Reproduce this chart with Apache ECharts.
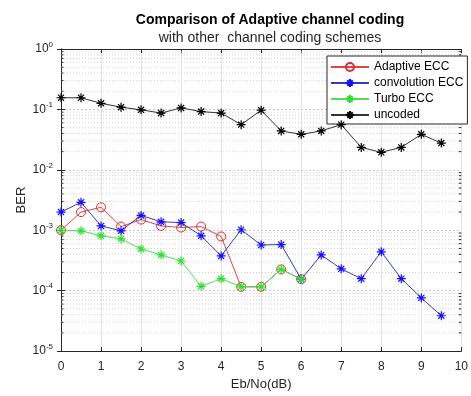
<!DOCTYPE html>
<html><head><meta charset="utf-8">
<script src="https://cdn.jsdelivr.net/npm/echarts@6/dist/echarts.min.js"></script>
<style>html,body{margin:0;padding:0;background:#fff}#c{width:471px;height:396px}</style>
</head><body><div id="c"></div>
<script>
const snr = [0,0.5,1,1.5,2,2.5,3,3.5,4,4.5,5,5.5,6,6.5,7,7.5,8,8.5,9,9.5];
const adaptiveX = [0,0.5,1,1.5,2,2.5,3,3.5,4,4.5,5,5.5,6];
const adaptiveECC = [0.001,0.0020,0.0024,0.00115,0.0015,0.00118,0.00111,0.00115,0.00079,0.000116,0.000116,0.000225,0.000155];
const convolutionECC = [0.0020,0.0029,0.00118,0.00098,0.00176,0.00138,0.00134,0.00081,0.000376,0.00102,0.00057,0.00058,0.000155,0.00039,0.00023,0.000158,0.00044,0.000158,0.000076,0.0000385];
const turboX = [0,0.5,1,1.5,2,2.5,3,3.5,4,4.5,5,5.5,6];
const turboECC = [0.001,0.00098,0.00081,0.00072,0.00049,0.00039,0.00031,0.000118,0.000158,0.000116,0.000116,0.000225,0.000155];
const uncoded = [0.156,0.156,0.126,0.109,0.0985,0.087,0.106,0.092,0.087,0.056,0.097,0.044,0.0387,0.044,0.056,0.0235,0.0195,0.0235,0.0387,0.0277];
const seriesNames = ['Adaptive ECC','convolution ECC','Turbo ECC','uncoded'];
const xTicks = [0,1,2,3,4,5,6,7,8,9,10];
const yExponents = [-5,-4,-3,-2,-1,0];

const minorVals = [];
for (let i = 0; i < yExponents.length - 1; i++) {
  for (let m = 2; m <= 9; m++) minorVals.push([0, m * Math.pow(10, yExponents[i])]);
}
const pair = (xs, ys) => xs.map((x, i) => [x, ys[i]]);
const star = 'path://M5,0L5,10M0,5L10,5M1.6,1.6L8.4,8.4M8.4,1.6L1.6,8.4';
const txt = '#262626';
const font = 'Liberation Sans, Arial, sans-serif';

const chart = echarts.init(document.getElementById('c'), null, {renderer: 'canvas'});
chart.setOption({
  backgroundColor: '#fff',
  animation: false,
  textStyle: {fontFamily: font},
  title: {
    text: 'Comparison of Adaptive channel coding',
    subtext: 'with other  channel coding schemes',
    left: 265, textAlign: 'center', top: 8, itemGap: 4,
    textStyle: {fontSize: 14, fontWeight: 'bold', color: '#000', fontFamily: font},
    subtextStyle: {fontSize: 14, color: txt, fontFamily: font}
  },
  legend: {
    data: seriesNames,
    orient: 'vertical', left: 327, top: 56,
    itemWidth: 38, itemHeight: 10, itemGap: 4,
    padding: [5, 4, 3, 3],
    borderColor: '#262626', borderWidth: 1, backgroundColor: '#fff',
    textStyle: {fontSize: 12, color: '#000', fontFamily: font}
  },
  grid: {left: 61, right: 3, top: 49, bottom: 40},
  xAxis: [{
    type: 'value', min: xTicks[0], max: xTicks[xTicks.length - 1], interval: 1,
    name: 'Eb/No(dB)', nameLocation: 'middle', nameGap: 24,
    nameTextStyle: {fontSize: 13, color: txt},
    axisLine: {show: true, lineStyle: {color: txt}},
    axisTick: {show: true, inside: true, length: 4, lineStyle: {color: txt}},
    axisLabel: {fontSize: 12, color: txt, margin: 10},
    splitLine: {show: true, lineStyle: {color: '#e2e2e2', width: 1}}
  }, {
    type: 'value', position: 'top', min: 0, max: 10, interval: 1,
    axisLine: {show: true, lineStyle: {color: txt}},
    axisTick: {show: true, inside: true, length: 4, lineStyle: {color: txt}},
    axisLabel: {show: false}, splitLine: {show: false}
  }],
  yAxis: [{
    type: 'log', logBase: 10, min: 1e-5, max: 1,
    name: 'BER', nameLocation: 'middle', nameGap: 33, nameMoveOverlap: false,
    nameTextStyle: {fontSize: 13, color: txt},
    axisLine: {show: true, lineStyle: {color: txt}},
    axisTick: {show: true, inside: true, length: 4, lineStyle: {color: txt}},
    axisLabel: {
      color: txt, margin: 8,
      formatter: v => '{b|10}{s|' + Math.round(Math.log10(v)) + '}',
      rich: {b: {fontSize: 12, color: txt, fontFamily: font}, s: {fontSize: 8, color: txt, fontFamily: font, padding: [0, 0, 9, 0]}}
    },
    splitLine: {show: true, lineStyle: {color: '#c8c8c8', type: [2, 2], width: 1}}
  }, {
    type: 'log', logBase: 10, min: 1e-5, max: 1, position: 'right',
    axisLine: {show: true, lineStyle: {color: txt}},
    axisTick: {show: true, inside: true, length: 4, lineStyle: {color: txt}},
    axisLabel: {show: false}, splitLine: {show: false}
  }],
  series: [{
    type: 'custom', silent: true, z: 1,
    coordinateSystem: 'cartesian2d',
    encode: {x: 0, y: 1},
    data: minorVals,
    renderItem: (params, api) => {
      const v = api.value(1);
      const a = api.coord([0, v]), b = api.coord([10, v]);
      return {type: 'group', children: [
        {type: 'line', shape: {x1: a[0], y1: a[1], x2: b[0], y2: b[1]}, style: {stroke: '#d2d2d2', lineWidth: 1, lineDash: [1, 2]}},
        {type: 'line', shape: {x1: a[0], y1: a[1], x2: a[0] + 2.5, y2: a[1]}, style: {stroke: txt, lineWidth: 1}},
        {type: 'line', shape: {x1: b[0] - 2.5, y1: b[1], x2: b[0], y2: b[1]}, style: {stroke: txt, lineWidth: 1}}
      ]};
    }
  }, {
    name: seriesNames[0], type: 'line', z: 3,
    data: pair(adaptiveX, adaptiveECC),
    symbol: 'circle', symbolSize: 9,
    lineStyle: {color: '#e04545', width: 1},
    itemStyle: {color: 'rgba(255,255,255,0)', borderColor: '#e02a2a', borderWidth: 1}
  }, {
    name: seriesNames[1], type: 'line', z: 4,
    data: pair(snr, convolutionECC),
    symbol: star, symbolSize: 9,
    lineStyle: {color: '#3a3ab4', width: 1},
    itemStyle: {color: '#1010ff', borderColor: '#1010ff', borderWidth: 1.2}
  }, {
    name: seriesNames[2], type: 'line', z: 5,
    data: pair(turboX, turboECC),
    symbol: star, symbolSize: 9,
    lineStyle: {color: '#4ee04e', width: 1},
    itemStyle: {color: '#2ee02e', borderColor: '#2ee02e', borderWidth: 1.2}
  }, {
    name: seriesNames[3], type: 'line', z: 6,
    data: pair(snr, uncoded),
    symbol: star, symbolSize: 9,
    lineStyle: {color: '#333333', width: 1},
    itemStyle: {color: '#000', borderColor: '#000', borderWidth: 1.2}
  }]
});
</script></body></html>
